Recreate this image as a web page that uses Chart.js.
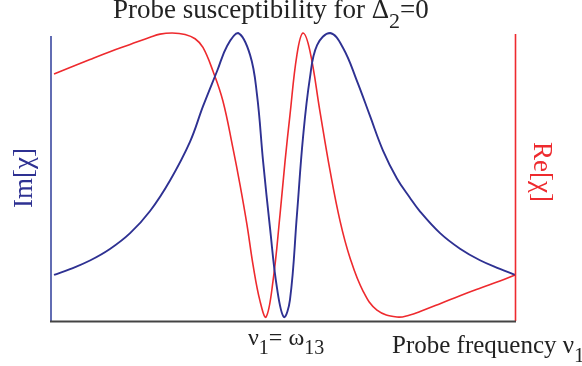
<!DOCTYPE html>
<html>
<head>
<meta charset="utf-8">
<script src="https://cdn.jsdelivr.net/npm/chart.js@4/dist/chart.umd.min.js"></script>
<style>
  html, body { margin: 0; padding: 0; background: #fff; }
  #wrap { width: 582px; height: 366px; }
</style>
</head>
<body>
<div id="wrap"><canvas id="suscChart" width="582" height="366"></canvas></div>
<script>
// Frekuensi probe (detuning, satuan bebas) dan nilai yang dibaca dari gambar
const imFreq = [-9.87, -9.18, -8.32, -7.46, -6.59, -5.73, -4.87, -4.01, -3.45, -2.84, -2.41, -1.94, -1.42, -1.12, -0.86, -0.56, -0.26, 0.04, 0.30, 0.60, 0.86, 1.16, 1.47, 2.03, 2.59, 3.19, 3.75, 4.31, 4.91, 5.47, 5.91, 6.77, 7.63, 8.49, 9.35, 10.0];
const imVals = [0.160, 0.180, 0.210, 0.250, 0.305, 0.382, 0.488, 0.622, 0.745, 0.868, 0.955, 1.0, 0.924, 0.785, 0.556, 0.323, 0.115, 0.014, 0.073, 0.368, 0.635, 0.844, 0.958, 1.0, 0.948, 0.833, 0.712, 0.592, 0.495, 0.428, 0.380, 0.305, 0.251, 0.211, 0.181, 0.160];

const reFreq = [-9.87, -9.18, -8.32, -7.46, -6.59, -5.73, -5.30, -4.78, -4.22, -3.79, -3.45, -3.02, -2.59, -2.16, -1.85, -1.55, -1.29, -0.99, -0.73, -0.43, -0.13, 0.09, 0.30, 0.60, 0.86, 1.16, 1.59, 2.03, 2.46, 2.89, 3.45, 4.05, 4.91, 5.47, 5.91, 6.77, 7.63, 8.49, 9.35, 10.0];
const reVals = [0.858, 0.880, 0.908, 0.935, 0.960, 0.985, 0.996, 1.0, 0.995, 0.980, 0.950, 0.868, 0.764, 0.601, 0.472, 0.333, 0.194, 0.069, 0.014, 0.139, 0.368, 0.556, 0.715, 0.924, 1.0, 0.938, 0.729, 0.521, 0.347, 0.219, 0.104, 0.038, 0.014, 0.021, 0.033, 0.060, 0.088, 0.114, 0.139, 0.160];

// Teks: [teks, subskrip] per potongan
const titleParts = [['Probe susceptibility for \u0394', ''], ['', '2'], ['=0', '']];
const centerLabel = [['\u03bd', ''], ['', '1'], ['= \u03c9', ''], ['', '13']];
const axisLabel = [['Probe frequency \u03bd', ''], ['', '1']];
const imLabel = 'Im[\u03c7]';
const reLabel = 'Re[\u03c7]';

const blue = '#2e3192';
const red = '#ee2a2e';
const FONT = '"Liberation Serif", "DejaVu Serif", serif';

function toPoints(xs, ys) {
  return xs.map((x, i) => ({ x: x, y: ys[i] }));
}

// Gambar teks dengan subskrip
function drawRuns(ctx, parts, x, y, size, subSize, drop) {
  let cx = x;
  parts.forEach(p => {
    if (p[0]) {
      ctx.font = size + 'px ' + FONT;
      ctx.fillText(p[0], cx, y);
      cx += ctx.measureText(p[0]).width;
    }
    if (p[1]) {
      ctx.font = subSize + 'px ' + FONT;
      ctx.fillText(p[1], cx, y + drop);
      cx += ctx.measureText(p[1]).width;
    }
  });
}

const decorPlugin = {
  id: 'decor',
  afterDatasetsDraw(chart) {
    const ctx = chart.ctx;
    const a = chart.chartArea;
    ctx.save();
    // sumbu
    ctx.lineWidth = 1.6;
    ctx.strokeStyle = '#3a48a0';
    ctx.beginPath(); ctx.moveTo(a.left, a.top + 3); ctx.lineTo(a.left, a.bottom); ctx.stroke();
    ctx.strokeStyle = red;
    ctx.beginPath(); ctx.moveTo(a.right + 0.5, a.top + 1); ctx.lineTo(a.right + 0.5, a.bottom); ctx.stroke();
    ctx.strokeStyle = '#444';
    ctx.lineWidth = 2;
    ctx.beginPath(); ctx.moveTo(a.left - 1, a.bottom + 0.5); ctx.lineTo(a.right + 1, a.bottom + 0.5); ctx.stroke();

    ctx.textBaseline = 'alphabetic';
    ctx.textAlign = 'left';
    ctx.fillStyle = '#222';
    drawRuns(ctx, titleParts, 113, 18, 27, 22, 10);
    drawRuns(ctx, centerLabel, 248, 345, 24, 20, 9);
    drawRuns(ctx, axisLabel, 392, 353, 25, 21, 9);

    // label sumbu y
    ctx.font = '27px ' + FONT;
    ctx.textAlign = 'center';
    ctx.textBaseline = 'middle';
    ctx.fillStyle = blue;
    ctx.save();
    ctx.translate(25, 178);
    ctx.rotate(-Math.PI / 2);
    ctx.fillText(imLabel, 0, 0);
    ctx.restore();
    ctx.fillStyle = red;
    ctx.save();
    ctx.translate(541, 172);
    ctx.rotate(Math.PI / 2);
    ctx.fillText(reLabel, 0, 0);
    ctx.restore();
    ctx.restore();
  }
};

const ctx = document.getElementById('suscChart').getContext('2d');
const suscChart = new Chart(ctx, {
  type: 'line',
  data: {
    datasets: [
      {
        label: imLabel,
        data: toPoints(imFreq, imVals),
        borderColor: blue,
        borderWidth: 1.9,
        pointRadius: 0,
        tension: 0.4,
        yAxisID: 'y',
        clip: false
      },
      {
        label: reLabel,
        data: toPoints(reFreq, reVals),
        borderColor: red,
        borderWidth: 1.6,
        pointRadius: 0,
        tension: 0.4,
        yAxisID: 'y2',
        clip: false
      }
    ]
  },
  options: {
    responsive: false,
    animation: false,
    layout: { padding: { left: 51, right: 67, top: 33, bottom: 45 } },
    plugins: {
      legend: { display: false },
      tooltip: { enabled: false },
      title: { display: false }
    },
    scales: {
      x: { type: 'linear', min: -10, max: 10, display: false },
      y: { min: 0, max: 1, display: false },
      y2: { min: 0, max: 1, display: false, position: 'right' }
    }
  },
  plugins: [decorPlugin]
});
</script>
</body>
</html>
